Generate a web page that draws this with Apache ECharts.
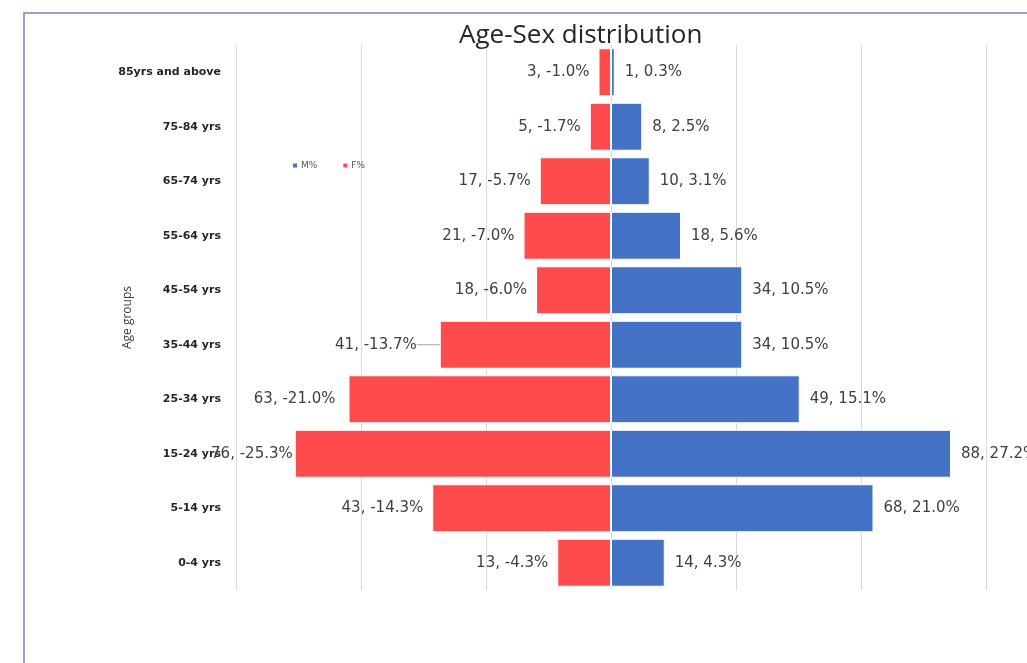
<!DOCTYPE html>
<html>
<head>
<meta charset="utf-8">
<script src="https://cdn.jsdelivr.net/npm/echarts@6/dist/echarts.min.js"></script>
<style>
html,body{margin:0;padding:0;background:#fff;}
#c{width:1027px;height:663px;}
</style>
</head>
<body>
<div id="c"></div>
<script>
// Data (bottom to top, as ECharts category y-axis draws first at bottom)
const categories = ['0-4 yrs','5-14 yrs','15-24 yrs','25-34 yrs','35-44 yrs','45-54 yrs','55-64 yrs','65-74 yrs','75-84 yrs','85yrs and above'];
const maleCounts   = [14, 68, 88, 49, 34, 34, 18, 10, 8, 1];
const malePct      = [4.3, 21.0, 27.2, 15.1, 10.5, 10.5, 5.6, 3.1, 2.5, 0.3];
const femaleCounts = [13, 43, 76, 63, 41, 18, 21, 17, 5, 3];
const femalePct    = [-4.3, -14.3, -25.3, -21.0, -13.7, -6.0, -7.0, -5.7, -1.7, -1.0];
const xTicks = [-30, -20, -10, 0, 10, 20, 30];

// label distance tweaks (style only)
const femaleLabelDist = [9, 9, 2, 13, 9, 9, 9, 9, 9, 9];
const leaderIndex = 4;

const chart = echarts.init(document.getElementById('c'), null, {renderer:'canvas'});
const labelFont = {fontFamily:'"DejaVu Sans", sans-serif', fontSize:15, color:'#404040'};

chart.setOption({
  backgroundColor:'#ffffff',
  animation:false,
  title:{
    text:'Age-Sex distribution',
    left:454, top:18,
    textStyle:{fontFamily:'"Open Sans", sans-serif', fontSize:26, fontWeight:'normal', color:'#262626'}
  },
  graphic:[{
    type:'rect', silent:true, z:-1,
    shape:{x:24, y:13, width:1100, height:700},
    style:{fill:null, stroke:'#7383b3', lineWidth:1.5}
  }],
  legend:{
    data:['M%','F%'],
    left:286, top:156,
    itemWidth:6, itemHeight:6, itemGap:24,
    icon:'rect',
    textStyle:{fontFamily:'"DejaVu Sans", sans-serif', fontSize:9, color:'#595959', padding:[0,0,0,-2]}
  },
  grid:{left:236, right:41, top:45, bottom:73},
  xAxis:{
    type:'value', min:xTicks[0], max:xTicks[xTicks.length-1], interval:10,
    axisLabel:{show:false}, axisLine:{show:false}, axisTick:{show:false},
    splitLine:{show:true, lineStyle:{color:'#d9d9d9', width:1}}
  },
  yAxis:{
    type:'category', data:categories,
    axisLine:{show:false, onZero:false}, axisTick:{show:false},
    axisLabel:{margin:15, fontFamily:'"DejaVu Sans", sans-serif', fontWeight:'bold', fontSize:11, color:'#262626'},
    name:'Age groups', nameLocation:'middle', nameRotate:90, nameGap:102, nameMoveOverlap:false,
    nameTextStyle:{fontFamily:'"Open Sans", sans-serif', fontSize:12, color:'#404040'}
  },
  series:[
    {
      name:'M%', type:'bar', stack:'pop', barCategoryGap:'12%',
      itemStyle:{color:'#4472c4', borderColor:'#ffffff', borderWidth:1},
      label:{show:true, position:'right', distance:10, ...labelFont,
        formatter:p=>maleCounts[p.dataIndex]+', '+malePct[p.dataIndex].toFixed(1)+'%'},
      data:malePct
    },
    {
      name:'F%', type:'bar', stack:'pop', barCategoryGap:'12%',
      itemStyle:{color:'#ff4b4b', borderColor:'#ffffff', borderWidth:1},
      label:{show:true, position:'left', distance:9, ...labelFont,
        formatter:p=>femaleCounts[p.dataIndex]+', '+femalePct[p.dataIndex].toFixed(1)+'%'},
      labelLayout:p=>(p.dataIndex===leaderIndex ? {dx:-14} : {}),
      labelLine:{show:false},
      data:femalePct.map((v,i)=>({
        value:v,
        label:{distance:femaleLabelDist[i]},
        labelLine:{show:i===leaderIndex, lineStyle:{color:'#a6a6a6', width:1}}
      }))
    }
  ]
});
</script>
</body>
</html>
